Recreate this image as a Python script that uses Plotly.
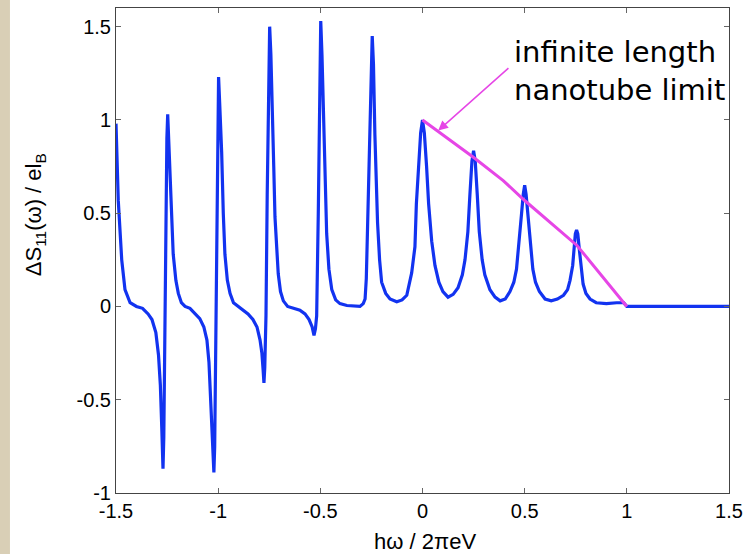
import plotly.graph_objects as go

# blue curve: Delta S11 vs h*omega / 2 pi e V
omega = [
    -1.500, -1.489, -1.472, -1.456, -1.431, -1.400, -1.370, -1.343, -1.324, -1.305,
    -1.292, -1.283, -1.276, -1.270, -1.266, -1.262, -1.256, -1.251, -1.247, -1.242,
    -1.236, -1.228, -1.220, -1.207, -1.195, -1.180, -1.162, -1.138, -1.113, -1.090,
    -1.070, -1.055, -1.045, -1.036, -1.028, -1.021, -1.017, -1.012, -1.006, -1.002,
    -0.998, -0.993, -0.983, -0.975, -0.967, -0.955, -0.942, -0.925, -0.903, -0.880,
    -0.854, -0.830, -0.810, -0.795, -0.786, -0.780, -0.776, -0.772, -0.766, -0.760,
    -0.754, -0.748, -0.742, -0.735, -0.728, -0.722, -0.714, -0.706, -0.695, -0.681,
    -0.660, -0.630, -0.600, -0.575, -0.555, -0.540, -0.531, -0.524, -0.518, -0.510,
    -0.505, -0.498, -0.492, -0.482, -0.469, -0.458, -0.444, -0.425, -0.404, -0.370,
    -0.330, -0.306, -0.290, -0.281, -0.275, -0.270, -0.260, -0.252, -0.246, -0.240,
    -0.233, -0.220, -0.210, -0.200, -0.180, -0.159, -0.126, -0.100, -0.077, -0.053,
    -0.037, -0.030, -0.020, -0.009, 0.000, 0.009, 0.020, 0.030, 0.045, 0.061,
    0.080, 0.100, 0.125, 0.150, 0.174, 0.195, 0.208, 0.222, 0.232, 0.242,
    0.250, 0.258, 0.268, 0.278, 0.292, 0.305, 0.330, 0.355, 0.380, 0.405,
    0.428, 0.447, 0.460, 0.475, 0.485, 0.493, 0.500, 0.507, 0.515, 0.525,
    0.540, 0.553, 0.572, 0.600, 0.630, 0.660, 0.690, 0.710, 0.722, 0.735,
    0.741, 0.748, 0.754, 0.760, 0.768, 0.776, 0.786, 0.800, 0.820, 0.850,
    0.900, 0.950, 0.985, 1.000, 1.500,
]
ds11 = [
    0.98, 0.57, 0.25, 0.09, 0.02, 0.00, -0.01, -0.04, -0.07, -0.14,
    -0.26, -0.42, -0.65, -0.87, -0.70, -0.20, 0.45, 0.90, 1.03, 0.90,
    0.74, 0.48, 0.28, 0.14, 0.07, 0.02, 0.00, -0.01, -0.04, -0.065,
    -0.11, -0.18, -0.30, -0.52, -0.75, -0.89, -0.75, -0.20, 0.50, 1.00,
    1.23, 1.10, 0.83, 0.50, 0.28, 0.14, 0.07, 0.02, 0.00, -0.02,
    -0.04, -0.07, -0.11, -0.18, -0.25, -0.34, -0.41, -0.33, -0.05, 0.60,
    1.20, 1.50, 1.35, 1.10, 0.75, 0.48, 0.30, 0.175, 0.08, 0.03,
    0.00, -0.01, -0.02, -0.04, -0.07, -0.11, -0.155, -0.12, -0.05, 0.50,
    0.95, 1.53, 1.35, 0.92, 0.39, 0.20, 0.09, 0.035, 0.015, 0.005,
    0.00, 0.00, 0.015, 0.04, 0.15, 0.39, 0.92, 1.30, 1.45, 1.30,
    0.92, 0.45, 0.25, 0.13, 0.07, 0.04, 0.025, 0.035, 0.06, 0.18,
    0.32, 0.55, 0.75, 0.93, 1.00, 0.93, 0.75, 0.55, 0.35, 0.22,
    0.13, 0.08, 0.05, 0.065, 0.10, 0.17, 0.25, 0.40, 0.60, 0.78,
    0.835, 0.78, 0.60, 0.40, 0.25, 0.17, 0.09, 0.05, 0.03, 0.04,
    0.08, 0.13, 0.20, 0.36, 0.50, 0.60, 0.65, 0.60, 0.50, 0.36,
    0.20, 0.13, 0.08, 0.04, 0.03, 0.04, 0.06, 0.09, 0.14, 0.22,
    0.30, 0.39, 0.41, 0.39, 0.30, 0.20, 0.12, 0.07, 0.04, 0.02,
    0.015, 0.02, 0.02, 0.00, 0.00,
]

# magenta curve: infinite length nanotube limit
limit_x = [0.0, 0.249, 0.395, 0.5, 0.756, 0.885, 0.95, 1.0]
limit_y = [1.0, 0.80, 0.675, 0.568, 0.327, 0.157, 0.068, 0.0]

tick_vals_x = [-1.5, -1, -0.5, 0, 0.5, 1, 1.5]
tick_vals_y = [-1, -0.5, 0, 0.5, 1, 1.5]

BLUE = "#1233f0"
MAGENTA = "#e646e6"

fig = go.Figure()
fig.add_trace(go.Scatter(x=omega, y=ds11, mode="lines",
                         line=dict(color=BLUE, width=3.2), showlegend=False))
fig.add_trace(go.Scatter(x=limit_x, y=limit_y, mode="lines",
                         line=dict(color=MAGENTA, width=3), showlegend=False))

axis_style = dict(showgrid=False, zeroline=False, showline=True, linecolor="#444",
                  linewidth=1, mirror="ticks", ticks="inside", ticklen=5,
                  tickcolor="#666", tickfont=dict(family="Liberation Sans, Arial", size=20, color="black"))

fig.update_xaxes(range=[-1.5, 1.5], tickvals=tick_vals_x,
                 ticktext=[f"{v:g}" for v in tick_vals_x], **axis_style)
fig.update_yaxes(range=[-1, 1.6], tickvals=tick_vals_y,
                 ticktext=[f"{v:g}" for v in tick_vals_y], **axis_style)

# textured strip on the left edge
fig.add_shape(type="rect", xref="paper", yref="paper", x0=-0.19, x1=-0.173,
              y0=-0.13, y1=1.02, fillcolor="#d9cfb6", line_width=0, layer="below")

fig.add_annotation(x=0.077, y=0.943, ax=0.428, ay=1.285, xref="x", yref="y",
                   axref="x", ayref="y", showarrow=True, arrowhead=2, arrowsize=1.3,
                   arrowwidth=1.5, arrowcolor=MAGENTA, text="")
fig.add_annotation(x=0.965, y=1.262, xref="x", yref="y", showarrow=False,
                   xanchor="center", yanchor="middle",
                   text="infinite length<br>nanotube limit", align="left",
                   font=dict(family="DejaVu Sans", size=29, color="black"))

fig.add_annotation(x=-0.132, y=0.573, xref="paper", yref="paper", showarrow=False,
                   xanchor="center", yanchor="middle", textangle=-90,
                   text="ΔS<sub>11</sub>(ω) / el<sub>B</sub>",
                   font=dict(family="Liberation Sans, Arial", size=22, color="black"))
fig.add_annotation(x=0.504, y=-0.099, xref="paper", yref="paper", showarrow=False,
                   xanchor="center", yanchor="middle",
                   text="hω / 2πeV",
                   font=dict(family="Liberation Sans, Arial", size=22, color="black"))

fig.update_layout(width=755, height=554, margin=dict(l=116, r=26, t=8, b=61),
                  plot_bgcolor="white", paper_bgcolor="white")

fig.write_html("out.html", config={"displayModeBar": False},
               post_script="document.body.style.margin='0';")
